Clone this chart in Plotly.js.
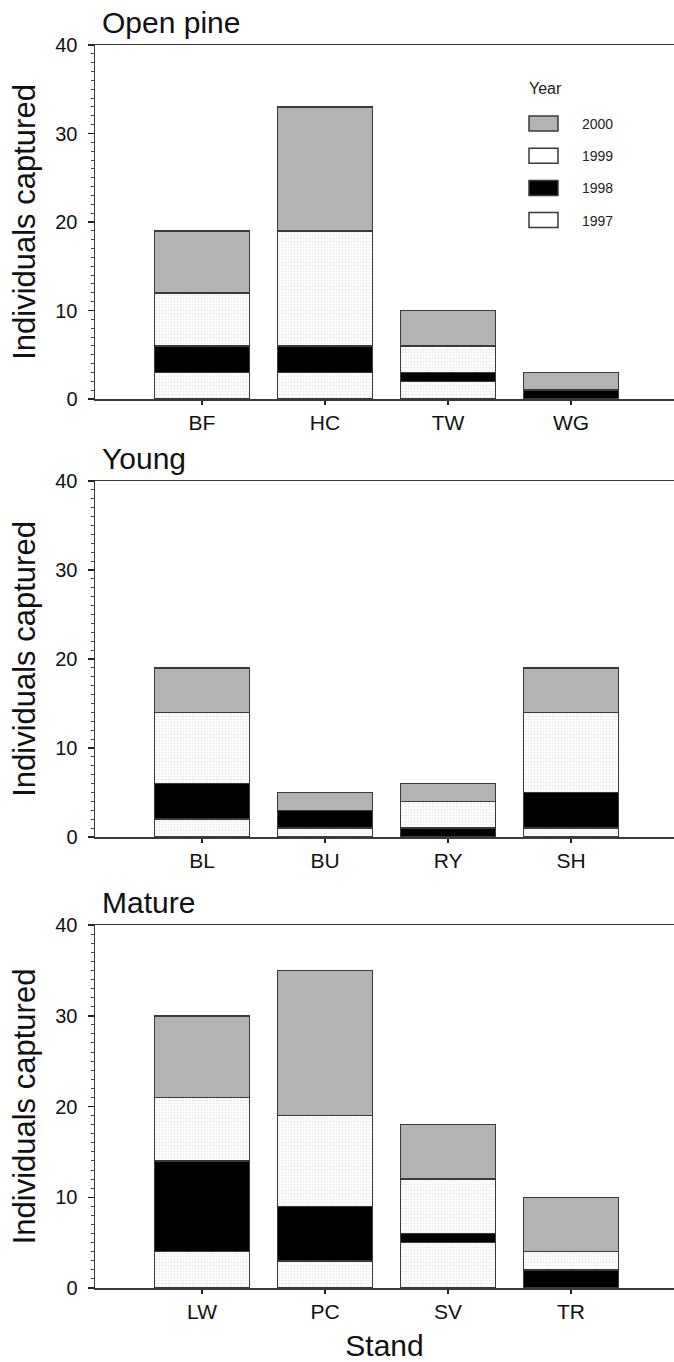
<!DOCTYPE html>
<html>
<head>
<meta charset="utf-8">
<script src="https://cdn.plot.ly/plotly-3.0.1.min.js"></script>
<style>html,body{margin:0;padding:0;background:#fff;}#chart{width:674px;height:1362px;}</style>
</head>
<body>
<div id="chart"></div>
<script>
// ---- data ----
var years = ['1997', '1998', '1999', '2000'];

var openStands = ['BF', 'HC', 'TW', 'WG'];
var open1997 = [3, 3, 2, 0];
var open1998 = [3, 3, 1, 1];
var open1999 = [6, 13, 3, 0];
var open2000 = [7, 14, 4, 2];

var youngStands = ['BL', 'BU', 'RY', 'SH'];
var young1997 = [2, 1, 0, 1];
var young1998 = [4, 2, 1, 4];
var young1999 = [8, 0, 3, 9];
var young2000 = [5, 2, 2, 5];

var matureStands = ['LW', 'PC', 'SV', 'TR'];
var mature1997 = [4, 3, 5, 0];
var mature1998 = [10, 6, 1, 2];
var mature1999 = [7, 10, 6, 2];
var mature2000 = [9, 16, 6, 6];

var panelTitles = ['Open pine', 'Young', 'Mature'];
var yTitle = 'Individuals captured';
var xTitle = 'Stand';
var yTickVals = [0, 10, 20, 30, 40];

// ---- styles ----
var FONT = 'Liberation Sans, Arial, Helvetica, sans-serif';
var LINE = '#3a3a3a';
var yearStyle = {
  '1997': {color: '#ffffff', pattern: {shape: '+', fgcolor: '#e4e4e4', bgcolor: '#ffffff', size: 3, solidity: 0.25}},
  '1998': {color: '#000000', pattern: null},
  '1999': {color: '#ffffff', pattern: {shape: '+', fgcolor: '#e4e4e4', bgcolor: '#ffffff', size: 3, solidity: 0.25}},
  '2000': {color: '#b3b3b3', pattern: null}
};

var panels = [
  {stands: openStands, vals: [open1997, open1998, open1999, open2000]},
  {stands: youngStands, vals: [young1997, young1998, young1999, young2000]},
  {stands: matureStands, vals: [mature1997, mature1998, mature1999, mature2000]}
];

var traces = [];
panels.forEach(function (p, i) {
  var sfx = i === 0 ? '' : String(i + 1);
  years.forEach(function (yr, k) {
    var st = yearStyle[yr];
    var marker = {color: st.color, line: {color: LINE, width: 1.5}};
    if (st.pattern) marker.pattern = st.pattern;
    traces.push({
      type: 'bar',
      name: yr,
      x: p.stands,
      y: p.vals[k],
      xaxis: 'x' + sfx,
      yaxis: 'y' + sfx,
      marker: marker,
      showlegend: false,
      hoverinfo: 'x+y+name'
    });
  });
});

// ---- geometry (pixels) ----
var W = 674, H = 1362;
var mL = 95, mR = 0, mT = 45, mB = 74;
var plotW = W - mL - mR, plotH = H - mT - mB;
function py2frac(py) { return (H - mB - py) / plotH; }
function px2frac(px) { return (px - mL) / plotW; }
var panelPix = [[45, 399], [481, 837], [925, 1288]];

var layout = {
  width: W, height: H,
  margin: {l: mL, r: mR, t: mT, b: mB, pad: 0},
  paper_bgcolor: '#fff', plot_bgcolor: '#fff',
  barmode: 'stack',
  bargap: 0.228,
  font: {family: FONT, color: '#111', size: 20},
  showlegend: false,
  annotations: [],
  shapes: []
};

panelPix.forEach(function (pp, i) {
  var sfx = i === 0 ? '' : String(i + 1);
  layout['xaxis' + sfx] = {
    type: 'category',
    range: [-0.87, 3.837],
    domain: [0, 1],
    anchor: 'y' + sfx,
    showline: true, linecolor: LINE, linewidth: 1.5, mirror: true,
    ticks: 'outside', ticklen: 4, tickwidth: 2.5, tickcolor: '#222',
    tickfont: {family: FONT, size: 21, color: '#111'},
    showgrid: false, zeroline: false, fixedrange: true,
    automargin: false
  };
  if (i === 2) {
    layout['xaxis' + sfx].title = {text: xTitle, font: {family: FONT, size: 30, color: '#111'}, standoff: 14};
  }
  layout['yaxis' + sfx] = {
    range: [0, 40],
    domain: [py2frac(pp[1]), py2frac(pp[0])],
    anchor: 'x' + sfx,
    tickvals: yTickVals,
    ticks: 'outside', ticklen: 6, tickwidth: 1.5, tickcolor: '#222',
    ticklabelstandoff: 6,
    minor: {dtick: 1, ticks: 'outside', ticklen: 3, tickwidth: 1, tickcolor: '#444', showgrid: false},
    showline: true, linecolor: LINE, linewidth: 1.5,
    tickfont: {family: FONT, size: 20, color: '#111'},
    showgrid: false, zeroline: false, fixedrange: true,
    automargin: false,
    title: {text: yTitle, font: {family: FONT, size: 31, color: '#111'}, standoff: 10}
  };
  layout.annotations.push({
    text: panelTitles[i],
    xref: 'paper', yref: 'y' + sfx + ' domain',
    x: px2frac(100), y: 1,
    xanchor: 'left', yanchor: 'bottom', yshift: 4,
    showarrow: false,
    font: {family: FONT, size: 30, color: '#111'}
  });
});

// ---- legend (drawn in panel 1) ----
var legTitleX = 527, legTitleY = 88;
var boxX0 = 529, boxX1 = 558, boxH = 15;
var firstRowY = 123.5, rowStep = 32.2;
layout.annotations.push({
  text: 'Year', xref: 'paper', yref: 'paper',
  x: px2frac(legTitleX), y: py2frac(legTitleY),
  xanchor: 'left', yanchor: 'middle', showarrow: false,
  font: {family: FONT, size: 16, color: '#222'}
});
var legendOrder = years.slice().reverse();
legendOrder.forEach(function (yr, r) {
  var cy = firstRowY + r * rowStep;
  layout.shapes.push({
    type: 'rect', xref: 'paper', yref: 'paper',
    x0: px2frac(boxX0), x1: px2frac(boxX1),
    y0: py2frac(cy + boxH / 2), y1: py2frac(cy - boxH / 2),
    fillcolor: yearStyle[yr].color,
    line: {color: LINE, width: 1.5}
  });
  layout.annotations.push({
    text: yr, xref: 'paper', yref: 'paper',
    x: px2frac(580), y: py2frac(cy + 0.5),
    xanchor: 'left', yanchor: 'middle', showarrow: false,
    font: {family: FONT, size: 14, color: '#222'}
  });
});

Plotly.newPlot('chart', traces, layout, {staticPlot: true, displayModeBar: false});
</script>
</body>
</html>
